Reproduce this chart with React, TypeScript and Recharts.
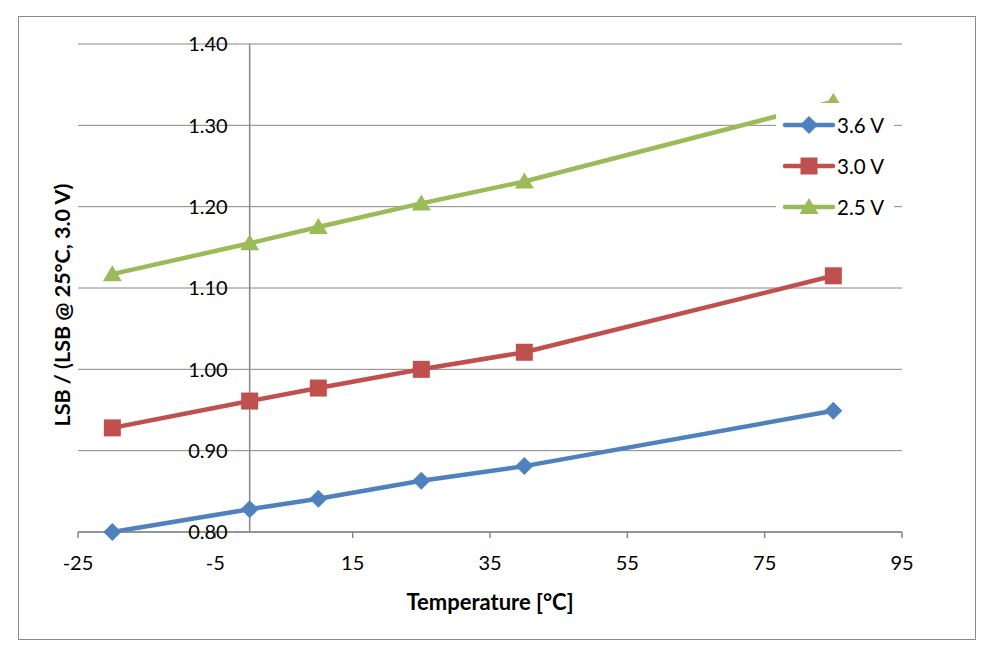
import { LineChart, Line, XAxis, YAxis, CartesianGrid, ReferenceLine } from "recharts";

const temps = [-20, 0, 10, 25, 40, 85];
const lsb36 = [0.800, 0.828, 0.841, 0.863, 0.881, 0.949];
const lsb30 = [0.928, 0.961, 0.977, 1.0, 1.021, 1.115];
const lsb25 = [1.117, 1.155, 1.175, 1.204, 1.231, 1.329];

const xTicks = [-25, -5, 15, 35, 55, 75, 95];
const yTicks = [0.8, 0.9, 1.0, 1.1, 1.2, 1.3, 1.4];

const data = temps.map((t, i) => ({ t, v36: lsb36[i], v30: lsb30[i], v25: lsb25[i] }));

const series = [
  { key: "v36", name: "3.6 V", color: "#4F81BD", shape: "diamond" },
  { key: "v30", name: "3.0 V", color: "#C0504D", shape: "square" },
  { key: "v25", name: "2.5 V", color: "#9BBB59", shape: "triangle" },
];

const FONT = "Lato, 'Open Sans', sans-serif";
const GRID = "#868686";
const W = 1000;
const H = 660;
const PLOT_L = 78;
const PLOT_R = 902;
const X_MIN = -25;
const X_MAX = 95;
// pixel position of the x = 0 axis line, where the y tick labels sit
const ZERO_PX = PLOT_L + ((0 - X_MIN) / (X_MAX - X_MIN)) * (PLOT_R - PLOT_L);

function Marker({ cx, cy, shape, color }: any) {
  if (cx == null || cy == null) return null;
  if (shape === "diamond") {
    const r = 9;
    return <polygon points={`${cx},${cy - r} ${cx + r},${cy} ${cx},${cy + r} ${cx - r},${cy}`} fill={color} />;
  }
  if (shape === "square") {
    const s = 8.5;
    return <rect x={cx - s} y={cy - s} width={s * 2} height={s * 2} fill={color} />;
  }
  const w = 9.5;
  return <polygon points={`${cx},${cy - 9} ${cx + w},${cy + 7} ${cx - w},${cy + 7}`} fill={color} />;
}

function YTick({ y, payload }: any) {
  return (
    <text x={ZERO_PX - 22} y={y} dy="0.36em" textAnchor="end" fill="#000" fontSize={20} fontFamily={FONT}>
      {Number(payload.value).toFixed(2)}
    </text>
  );
}

function YTitle() {
  return (
    <text
      x={62}
      y={305}
      transform="rotate(-90 62 305)"
      textAnchor="middle"
      dominantBaseline="central"
      fontSize={21.5}
      fontWeight="bold"
      fontFamily={FONT}
      fill="#000"
    >
      LSB / (LSB @ 25°C, 3.0 V)
    </text>
  );
}

function LegendBox() {
  return (
    <div
      style={{
        position: "absolute",
        left: 776,
        top: 103,
        background: "#fff",
        width: 118,
        height: 122,
        paddingTop: 1,
        boxSizing: "border-box",
      }}
    >
      {series.map((s) => (
        <div key={s.key} style={{ display: "flex", alignItems: "center", height: 41 }}>
          <svg width={60} height={24} style={{ marginLeft: 5, flex: "none" }}>
            <line x1={4} y1={12} x2={52} y2={12} stroke={s.color} strokeWidth={4.5} strokeLinecap="round" />
            <Marker cx={28} cy={12} shape={s.shape} color={s.color} />
          </svg>
          <span style={{ fontFamily: FONT, fontSize: 20.5, color: "#000", marginLeft: -4, lineHeight: "24px" }}>
            {s.name}
          </span>
        </div>
      ))}
    </div>
  );
}

export default function App() {
  return (
    <div style={{ position: "absolute", left: 0, top: 0, width: W, height: H, background: "#fff" }}>
      <div
        style={{
          position: "absolute",
          left: 18,
          top: 16,
          width: 958,
          height: 624,
          border: "1.5px solid #8a8a8a",
          boxSizing: "border-box",
        }}
      />
      <div style={{ position: "absolute", left: 0, top: 0 }}>
        <LineChart width={W} height={H} data={data} margin={{ top: 44, right: W - PLOT_R, bottom: 48, left: 18 }}>
          <CartesianGrid vertical={false} stroke={GRID} strokeWidth={1} />
          <XAxis
            dataKey="t"
            type="number"
            domain={[X_MIN, X_MAX]}
            ticks={xTicks}
            interval={0}
            height={80}
            axisLine={{ stroke: GRID, strokeWidth: 1.5 }}
            tickLine={{ stroke: GRID, strokeWidth: 1.5 }}
            tickSize={6}
            tickMargin={18}
            tick={{ fill: "#000", fontSize: 20, fontFamily: FONT }}
            label={{
              value: "Temperature [°C]",
              position: "insideBottom",
              offset: 2,
              fill: "#000",
              fontSize: 22,
              fontWeight: "bold",
              fontFamily: FONT,
            }}
          />
          <YAxis
            type="number"
            domain={[0.8, 1.4]}
            ticks={yTicks}
            interval={0}
            width={60}
            axisLine={false}
            tickLine={false}
            tick={<YTick />}
            label={<YTitle />}
          />
          <ReferenceLine x={0} stroke={GRID} strokeWidth={1.5} />
          {series.map((s) => (
            <Line
              key={s.key}
              dataKey={s.key}
              name={s.name}
              type="linear"
              stroke={s.color}
              strokeWidth={4.5}
              isAnimationActive={false}
              dot={(p: any) => <Marker key={`${s.key}-${p.index}`} cx={p.cx} cy={p.cy} shape={s.shape} color={s.color} />}
              activeDot={false}
            />
          ))}
        </LineChart>
      </div>
      <LegendBox />
    </div>
  );
}
